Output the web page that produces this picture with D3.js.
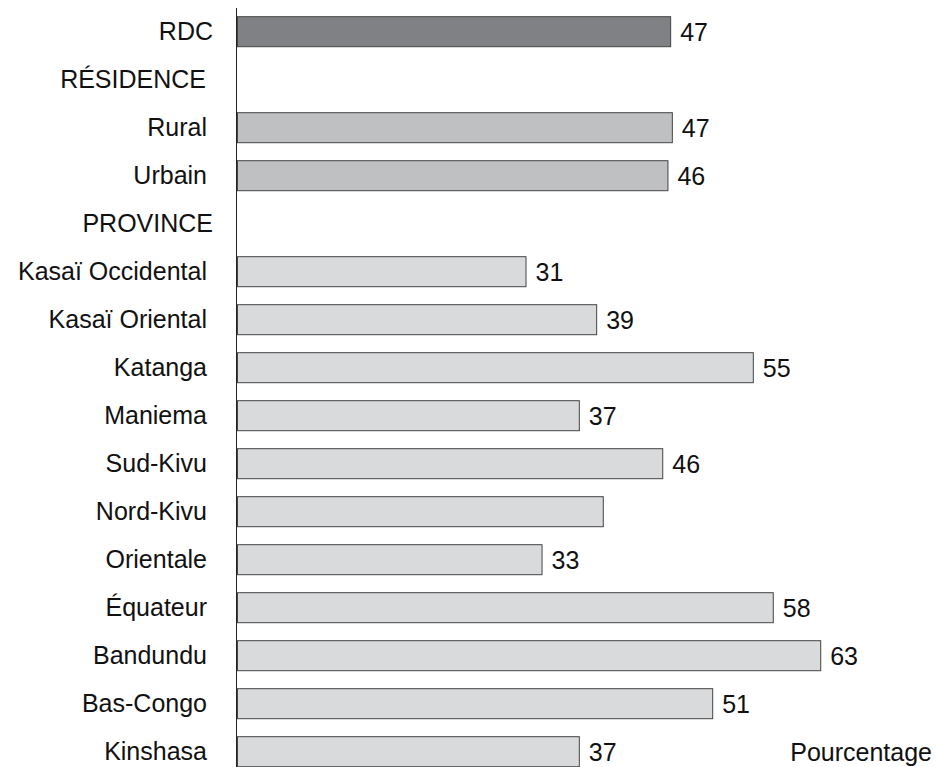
<!DOCTYPE html>
<html><head><meta charset="utf-8">
<script src="https://cdn.jsdelivr.net/npm/d3@7"></script>
<style>body{margin:0;background:#fff}svg{display:block}text{font-family:"Liberation Sans",Arial,sans-serif;fill:#111}</style>
</head><body><svg id="c" width="937" height="767"></svg>
<script>
const categories = ["RDC","RÉSIDENCE","Rural","Urbain","PROVINCE","Kasaï Occidental","Kasaï Oriental","Katanga","Maniema","Sud-Kivu","Nord-Kivu","Orientale","Équateur","Bandundu","Bas-Congo","Kinshasa"];
const values = [46.53,null,46.71,46.24,null,31.01,38.59,55.40,36.73,45.68,39.30,32.73,57.54,62.63,51.04,36.73];
const valueLabels = ["47","","47","46","","31","39","55","37","46","","33","58","63","51","37"];
const groups = ["total","header","residence","residence","header","province","province","province","province","province","province","province","province","province","province","province"];
const xAxisTitle = "Pourcentage";

const fills = {total:"#808184", residence:"#bfc0c2", province:"#d9dadb"};
const svg = d3.select("#c");
const x = d3.scaleLinear().domain([0,70]).range([237, 237+70*9.32]);
const y = d3.scaleBand().domain(d3.range(categories.length)).range([7.7, 7.7+48*16]).paddingInner(0.354).paddingOuter(0.177);

const data = categories.map((c,i)=>({c, v:values[i], l:valueLabels[i], g:groups[i], i}));

svg.selectAll("rect.bar").data(data.filter(d=>d.v!=null)).join("rect")
  .attr("class","bar")
  .attr("x", x(0)+0.5).attr("y", d=>y(d.i)+0.5)
  .attr("width", d=>x(d.v)-x(0)-0.5).attr("height", y.bandwidth()-1)
  .attr("fill", d=>fills[d.g]).attr("stroke","#444").attr("stroke-width",1);

svg.append("line").attr("x1",236.5).attr("x2",236.5).attr("y1",8).attr("y2",767).attr("stroke","#222").attr("stroke-width",1);

const labX = {RDC:213, "RÉSIDENCE":206, PROVINCE:213};
svg.selectAll("text.cat").data(data).join("text")
  .attr("class","cat")
  .attr("x", d=>labX[d.c]!==undefined ? labX[d.c] : 207)
  .attr("y", d=>y(d.i)+y.bandwidth()/2+8.5)
  .attr("text-anchor","end").attr("font-size",25).text(d=>d.c);

svg.selectAll("text.val").data(data.filter(d=>d.l)).join("text")
  .attr("class","val")
  .attr("x", d=>x(d.v)+9.5).attr("y", d=>y(d.i)+y.bandwidth()/2+9.5)
  .attr("font-size",25).text(d=>d.l);

svg.append("text").attr("x",932).attr("y",761).attr("text-anchor","end").attr("font-size",25).text(xAxisTitle);
</script></body></html>
